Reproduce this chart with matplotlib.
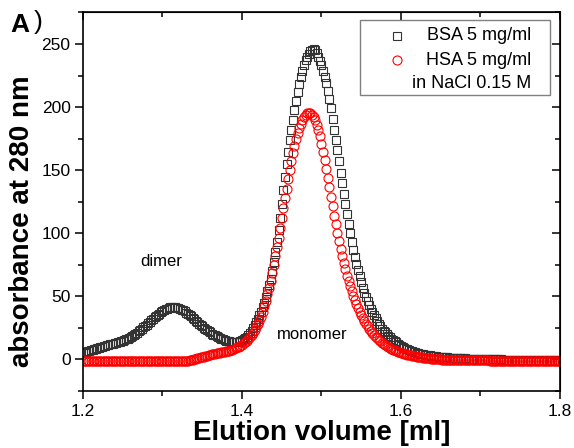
import numpy as np
import matplotlib
matplotlib.use("Agg")
import matplotlib.pyplot as plt
from matplotlib.patches import Rectangle

plt.rcParams['font.family'] = ['Liberation Sans', 'DejaVu Sans']

# elution volume grid (ml), one reading every 0.002 ml
volume = np.linspace(1.2, 1.8, 301)

# BSA 5 mg/ml
bsa = [5.0, 5.5, 6.0, 6.5, 7.0, 7.4, 7.8, 8.2, 8.5, 8.9,
       9.3, 9.6, 10.0, 10.4, 10.8, 11.1, 11.5, 11.9, 12.3, 12.6,
       13.0, 13.4, 13.8, 14.2, 14.6, 15.0, 15.5, 16.0, 16.6, 17.2,
       17.9, 18.7, 19.5, 20.4, 21.3, 22.3, 23.3, 24.4, 25.5, 26.6,
       27.7, 28.8, 30.0, 31.1, 32.2, 33.3, 34.4, 35.4, 36.4, 37.3,
       38.2, 39.0, 39.7, 40.3, 40.8, 41.2, 41.4, 41.5, 41.4, 41.1,
       40.7, 40.2, 39.6, 38.9, 38.1, 37.2, 36.2, 35.2, 34.1, 33.0,
       31.9, 30.8, 29.6, 28.5, 27.4, 26.3, 25.2, 24.2, 23.2, 22.3,
       21.4, 20.5, 19.7, 19.0, 18.3, 17.6, 17.0, 16.4, 15.9, 15.4,
       15.0, 14.6, 14.3, 14.0, 13.8, 13.7, 13.7, 13.8, 14.1, 14.6,
       15.3, 16.1, 17.0, 18.1, 19.4, 21.0, 22.8, 24.8, 27.0, 29.4,
       32.0, 34.9, 38.0, 41.4, 45.0, 49.3, 54.0, 58.8, 64.0, 70.3,
       77.0, 84.8, 93.0, 102.3, 112.0, 123.0, 134.0, 144.8, 155.0, 164.8,
       174.0, 182.2, 190.0, 197.8, 205.0, 211.8, 218.0, 223.8, 229.0, 233.3,
       237.0, 240.0, 242.5, 244.3, 245.5, 245.8, 245.0, 243.0, 240.0, 236.8,
       233.0, 228.8, 224.0, 218.8, 213.0, 206.3, 199.0, 190.8, 182.0, 174.0,
       166.0, 157.0, 148.0, 139.5, 131.0, 123.0, 115.0, 107.3, 100.0, 93.3,
       87.0, 81.3, 76.0, 71.0, 66.0, 61.3, 57.0, 53.0, 49.5, 46.1,
       43.0, 40.2, 37.5, 34.9, 32.5, 30.2, 28.0, 26.2, 24.5, 22.9,
       21.5, 20.1, 18.8, 17.6, 16.5, 15.5, 14.5, 13.5, 12.5, 11.6,
       10.8, 10.0, 9.3, 8.6, 8.0, 7.5, 7.0, 6.5, 6.1, 5.7,
       5.3, 5.0, 4.7, 4.4, 4.1, 3.8, 3.6, 3.4, 3.2, 3.0,
       2.8, 2.6, 2.5, 2.3, 2.2, 2.0, 1.9, 1.8, 1.7, 1.6,
       1.5, 1.4, 1.3, 1.2, 1.1, 1.05, 1.0, 0.95, 0.9, 0.85,
       0.8, 0.75, 0.7, 0.65, 0.6, 0.6, 0.55, 0.5, 0.5, 0.45,
       0.4, 0.4, 0.35, 0.3, 0.3, 0.25, 0.2, 0.2, 0.15, 0.1,
       0.1, 0.05, 0.0, 0.0, -0.05, -0.1, -0.1, -0.1, -0.15, -0.15,
       -0.2, -0.2, -0.2, -0.2, -0.25, -0.25, -0.25, -0.3, -0.3, -0.3,
       -0.3, -0.3, -0.3, -0.35, -0.35, -0.35, -0.35, -0.35, -0.4, -0.4,
       -0.4, -0.4, -0.4, -0.4, -0.4, -0.4, -0.4, -0.4, -0.4, -0.4,
       -0.4]

# HSA 5 mg/ml
hsa = [-1.5, -1.5, -1.5, -1.5, -1.5, -1.5, -1.5, -1.5, -1.5, -1.5,
       -1.5, -1.5, -1.5, -1.5, -1.5, -1.5, -1.5, -1.5, -1.5, -1.5,
       -1.5, -1.5, -1.5, -1.5, -1.5, -1.5, -1.5, -1.5, -1.5, -1.5,
       -1.5, -1.5, -1.5, -1.5, -1.5, -1.5, -1.5, -1.5, -1.5, -1.5,
       -1.5, -1.5, -1.5, -1.5, -1.5, -1.5, -1.5, -1.5, -1.5, -1.5,
       -1.5, -1.5, -1.5, -1.5, -1.5, -1.5, -1.5, -1.5, -1.5, -1.5,
       -1.5, -1.5, -1.4, -1.3, -1.2, -1.05, -0.9, -0.65, -0.4, -0.1,
       0.2, 0.55, 0.9, 1.25, 1.6, 1.95, 2.3, 2.65, 3.0, 3.35,
       3.7, 4.0, 4.3, 4.6, 4.9, 5.15, 5.4, 5.65, 5.9, 6.2,
       6.5, 6.8, 7.1, 7.5, 7.9, 8.4, 8.9, 9.5, 10.2, 11.0,
       11.8, 12.8, 13.8, 15.0, 16.3, 17.8, 19.5, 21.3, 23.3, 25.5,
       28.0, 30.8, 34.0, 37.8, 42.0, 46.6, 51.5, 56.8, 62.5, 68.6,
       75.0, 81.8, 89.0, 96.4, 104.0, 112.0, 120.0, 127.8, 135.5, 143.0,
       150.0, 157.0, 163.5, 169.3, 174.5, 179.3, 183.5, 187.0, 190.0, 192.3,
       194.0, 195.0, 195.3, 195.0, 194.0, 192.0, 189.5, 186.0, 182.0, 176.8,
       171.0, 164.6, 158.0, 151.0, 144.0, 136.5, 129.0, 121.5, 114.0, 107.0,
       100.0, 93.6, 87.5, 81.8, 76.5, 71.4, 66.5, 62.1, 58.0, 54.1,
       50.5, 47.1, 44.0, 40.9, 38.0, 35.4, 33.0, 30.7, 28.5, 26.4,
       24.5, 22.7, 21.0, 19.4, 18.0, 16.7, 15.5, 14.4, 13.3, 12.3,
       11.4, 10.6, 9.8, 9.1, 8.4, 7.8, 7.2, 6.7, 6.2, 5.7,
       5.3, 4.9, 4.5, 4.1, 3.8, 3.5, 3.2, 2.9, 2.7, 2.4,
       2.2, 2.0, 1.8, 1.6, 1.4, 1.25, 1.1, 0.95, 0.8, 0.65,
       0.5, 0.4, 0.3, 0.2, 0.1, 0.0, -0.1, -0.15, -0.2, -0.25,
       -0.3, -0.35, -0.4, -0.45, -0.5, -0.5, -0.55, -0.6, -0.6, -0.6,
       -0.65, -0.65, -0.7, -0.7, -0.7, -0.7, -0.75, -0.75, -0.75, -0.75,
       -0.8, -0.8, -0.8, -0.8, -0.8, -0.8, -0.85, -0.85, -0.85, -0.85,
       -0.85, -0.85, -0.9, -0.9, -0.9, -0.9, -0.9, -0.9, -0.9, -0.9,
       -0.9, -0.9, -0.95, -0.95, -0.95, -0.95, -0.95, -0.95, -0.95, -0.95,
       -0.95, -0.95, -1.0, -1.0, -1.0, -1.0, -1.0, -1.0, -1.0, -1.0,
       -1.0, -1.0, -1.0, -1.0, -1.0, -1.0, -1.0, -1.0, -1.0, -1.0,
       -1.0]

legend_labels = ['BSA 5 mg/ml', 'HSA 5 mg/ml', 'in NaCl 0.15 M']

fig = plt.figure(figsize=(5.74, 4.48), dpi=100)
ax = fig.add_axes([0.1446, 0.1272, 0.8310, 0.8449])

ax.plot(volume, bsa, linestyle='none', marker='s', markersize=6,
        markerfacecolor='none', markeredgecolor='#333333', markeredgewidth=0.8)
ax.plot(volume, hsa, linestyle='none', marker='o', markersize=6.5,
        markerfacecolor='none', markeredgecolor='#ff0000', markeredgewidth=0.8)

ax.set_xlim(1.2, 1.8)
ax.set_ylim(-25, 275)
ax.set_xticks([1.2, 1.4, 1.6, 1.8])
ax.set_xticklabels(['1.2', '1.4', '1.6', '1.8'])
ax.set_xticks([1.3, 1.5, 1.7], minor=True)
ax.set_yticks([0, 50, 100, 150, 200, 250])
ax.set_yticks([-25, 25, 75, 125, 175, 225, 275], minor=True)
ax.tick_params(which='major', direction='out', length=6, width=1.1,
               labelsize=12.5, pad=3)
ax.tick_params(which='minor', direction='out', length=3.5, width=1.1)
for s in ax.spines.values():
    s.set_linewidth(1.2)

# mirrored ticks on top and right, pointing inward
top = ax.secondary_xaxis('top')
top.set_xticks([1.2, 1.4, 1.6, 1.8])
top.set_xticks([1.3, 1.5, 1.7], minor=True)
top.tick_params(which='major', direction='in', length=6, width=1.1, labeltop=False)
top.tick_params(which='minor', direction='in', length=3.5, width=1.1)
right = ax.secondary_yaxis('right')
right.set_yticks([0, 50, 100, 150, 200, 250])
right.set_yticks([-25, 25, 75, 125, 175, 225, 275], minor=True)
right.tick_params(which='major', direction='in', length=6, width=1.1, labelright=False)
right.tick_params(which='minor', direction='in', length=3.5, width=1.1)

ax.set_xlabel('Elution volume [ml]', fontsize=20, fontweight='bold', labelpad=1)
ax.set_ylabel('absorbance at 280 nm', fontsize=20, fontweight='bold')
ax.yaxis.set_label_coords(-0.1006, 0.449)

ax.text(1.2987, 78, 'dimer', fontsize=12, ha='center', va='center')
ax.text(1.4887, 19.7, 'monomer', fontsize=12, ha='center', va='center')

fig.text(0.018, 0.945, 'A', fontsize=19, fontweight='bold', va='center')
fig.text(0.058, 0.95, ')', fontsize=19, va='center')

# legend box drawn by hand, Origin style
ax.add_patch(Rectangle((0.5807, 0.782), 0.398, 0.198, transform=ax.transAxes,
                       facecolor='white', edgecolor='#808080', linewidth=1.0, zorder=5))
ax.plot([0.6576], [0.938], transform=ax.transAxes, marker='s', markersize=6,
        markerfacecolor='none', markeredgecolor='#333333', markeredgewidth=0.8, zorder=6)
ax.plot([0.6576], [0.8745], transform=ax.transAxes, marker='o', markersize=6.5,
        markerfacecolor='none', markeredgecolor='#ff0000', markeredgewidth=0.8, zorder=6)
for lab, yy in zip(legend_labels, [0.938, 0.8745, 0.8137]):
    ax.text(0.939, yy, lab, transform=ax.transAxes, fontsize=13,
            ha='right', va='center', zorder=6)

fig.savefig('out.png', dpi=100)
